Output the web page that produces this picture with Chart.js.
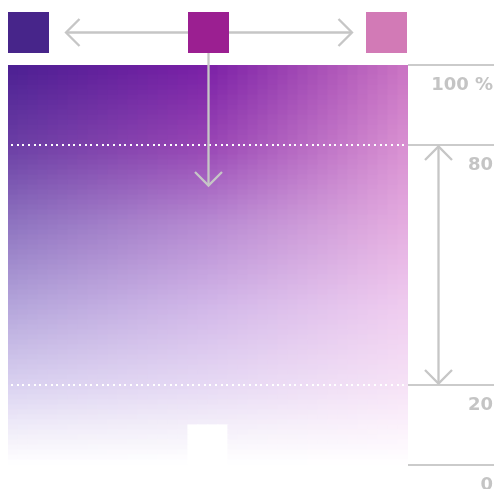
<!DOCTYPE html>
<html>
<head>
<meta charset="utf-8">
<script src="https://cdn.jsdelivr.net/npm/chart.js@4.4.0/dist/chart.umd.min.js"></script>
<style>
html,body{margin:0;padding:0;background:#fff;overflow:hidden}
#wrap{width:497px;height:489px;position:relative}
</style>
</head>
<body>
<div id="wrap"><canvas id="c" width="497" height="489"></canvas></div>
<script>
// ---- data ----
const columns = ['1','2','3','4','5','6','7','8','9','10','11','12','13','14','15','16','17','18','19','20',
                 '21','22','23','24','25','26','27','28','29','30','31','32','33','34','35','36','37','38','39','40'];
const rowHeights = [1.25,1.25,1.25,1.25,1.25,1.25,1.25,1.25,1.25,1.25,1.25,1.25,1.25,1.25,1.25,1.25,1.25,1.25,1.25,1.25,
                    1.25,1.25,1.25,1.25,1.25,1.25,1.25,1.25,1.25,1.25,1.25,1.25,1.25,1.25,1.25,1.25,1.25,1.25,1.25,1.25,
                    1.25,1.25,1.25,1.25,1.25,1.25,1.25,1.25,1.25,1.25,1.25,1.25,1.25,1.25,1.25,1.25,1.25,1.25,1.25,1.25,
                    1.25,1.25,1.25,1.25,1.25,1.25,1.25,1.25,1.25,1.25,1.25,1.25,1.25,1.25,1.25,1.25,1.25,1.25,1.25,1.25];
const yTicks = [0, 20, 80, 100];
const guideValues = [80, 20];
const blankColumns = ['19','20','21','22'];
const blankTopValue = 10;

// ---- styles ----
const swatchColors = ['#47258a', '#9b1f91', '#d27ab6'];
const anchorLevels = [0, 10, 20, 40, 60, 80, 100];
const anchorLeft  = ['#ffffff', '#eeeaf8', '#d9d1f0', '#b3a4da', '#8e74c0', '#6a3ea4', '#4b1f92'];
const anchorMid   = ['#ffffff', '#f3eef9', '#e6d9f4', '#d1b6e8', '#b78ad2', '#9845b4', '#7a1fa6'];
const anchorRight = ['#ffffff', '#fbf0fb', '#f6e2f6', '#efcbef', '#e5ade0', '#d991d2', '#cb74c3'];
const gray = '#c6c6c6';

function hex(c){return [1,3,5].map(i=>parseInt(c.slice(i,i+2),16));}
function mix(a,b,t){return a.map((v,i)=>v+(b[i]-v)*t);}
function levelColor(arr, level){
  for(let i=0;i<anchorLevels.length-1;i++){
    if(level>=anchorLevels[i] && level<=anchorLevels[i+1]){
      const t=(level-anchorLevels[i])/(anchorLevels[i+1]-anchorLevels[i]);
      return mix(hex(arr[i]),hex(arr[i+1]),t);
    }
  }
  return hex(arr[arr.length-1]);
}
function cellColor(ci, level){
  const f=(ci+0.5)/columns.length;
  const L=levelColor(anchorLeft,level), M=levelColor(anchorMid,level), R=levelColor(anchorRight,level);
  const c = f<0.5 ? mix(L,M,f*2) : mix(M,R,(f-0.5)*2);
  return 'rgb('+c.map(v=>Math.round(v)).join(',')+')';
}

let base=0;
const datasets = rowHeights.map((h,ri)=>{
  const level = base + h/2; base += h;
  return {
    label:'row '+(ri+1),
    data: columns.map(()=>h),
    backgroundColor: columns.map((col,ci)=> (level < blankTopValue && blankColumns.includes(col)) ? '#ffffff' : cellColor(ci, level)),
    borderWidth:0,
    inflateAmount:0.6,
    barPercentage:1,
    categoryPercentage:1,
    stack:'s'
  };
});

function chevron(ctx, x, y, dir, s){
  ctx.beginPath();
  if(dir==='left'){ctx.moveTo(x+s,y-s);ctx.lineTo(x,y);ctx.lineTo(x+s,y+s);}
  if(dir==='right'){ctx.moveTo(x-s,y-s);ctx.lineTo(x,y);ctx.lineTo(x-s,y+s);}
  if(dir==='up'){ctx.moveTo(x-s,y+s);ctx.lineTo(x,y);ctx.lineTo(x+s,y+s);}
  if(dir==='down'){ctx.moveTo(x-s,y-s);ctx.lineTo(x,y);ctx.lineTo(x+s,y-s);}
  ctx.stroke();
}

const overlay = {
  id:'overlay',
  afterDatasetsDraw(chart){
    const {ctx, chartArea:a, scales:{y}} = chart;
    ctx.save();
    ctx.fillStyle='#ffffff';
    guideValues.forEach(v=>{
      const py=Math.round(y.getPixelForValue(v));
      for(let x=a.left+3; x<a.right-1; x+=5.67){
        ctx.fillRect(Math.round(x), py-1, 2, 2);
      }
    });
    ctx.restore();
  },
  afterDraw(chart){
    const {ctx, chartArea:a, scales:{y}} = chart;
    const size=41, top=12, cy=top+size/2;
    const midX=Math.round((a.left+a.right)/2);
    const xs=[a.left, midX-20, a.right-42];
    ctx.save();
    ctx.strokeStyle=gray; ctx.lineWidth=2.3; ctx.lineCap='butt';
    const hx1=xs[0]+58, hx2=xs[2]-14;
    ctx.beginPath(); ctx.moveTo(hx1,cy); ctx.lineTo(hx2,cy); ctx.stroke();
    chevron(ctx,hx1,cy,'left',13.5);
    chevron(ctx,hx2,cy,'right',13.5);
    const vTip=y.getPixelForValue(70)+0.5;
    ctx.beginPath(); ctx.moveTo(midX+0.5,top+size); ctx.lineTo(midX+0.5,vTip); ctx.stroke();
    chevron(ctx,midX+0.5,vTip,'down',13.5);
    const rx=a.right+30.5;
    const t1=y.getPixelForValue(80)+1.5, t2=y.getPixelForValue(20)-1.5;
    ctx.beginPath(); ctx.moveTo(rx,t1); ctx.lineTo(rx,t2); ctx.stroke();
    chevron(ctx,rx,t1,'up',13.5);
    chevron(ctx,rx,t2,'down',13.5);
    swatchColors.forEach((c,i)=>{ctx.fillStyle=c; ctx.fillRect(xs[i],top,size,size);});
    ctx.restore();
  }
};

new Chart(document.getElementById('c'), {
  type:'bar',
  data:{labels:columns, datasets},
  options:{
    responsive:false,
    animation:false,
    layout:{padding:{left:8, top:65, right:4, bottom:24}},
    plugins:{legend:{display:false}, tooltip:{enabled:false}},
    scales:{
      x:{display:false, stacked:true},
      y:{
        position:'right', stacked:true, min:0, max:100,
        border:{display:false},
        grid:{drawOnChartArea:false, drawTicks:true, tickLength:86, color:'#cbcbcb', lineWidth:2},
        ticks:{
          padding:0, crossAlign:'far', labelOffset:20, color:'#c4c4c4',
          font:{family:'DejaVu Sans', weight:'bold', size:18},
          callback:(v)=> v===100 ? '100 %' : String(v)
        },
        afterBuildTicks:(s)=>{ s.ticks = yTicks.map(v=>({value:v})); },
        afterFit:(s)=>{ s.width = 85; }
      }
    }
  },
  plugins:[overlay]
});
</script>
</body>
</html>
